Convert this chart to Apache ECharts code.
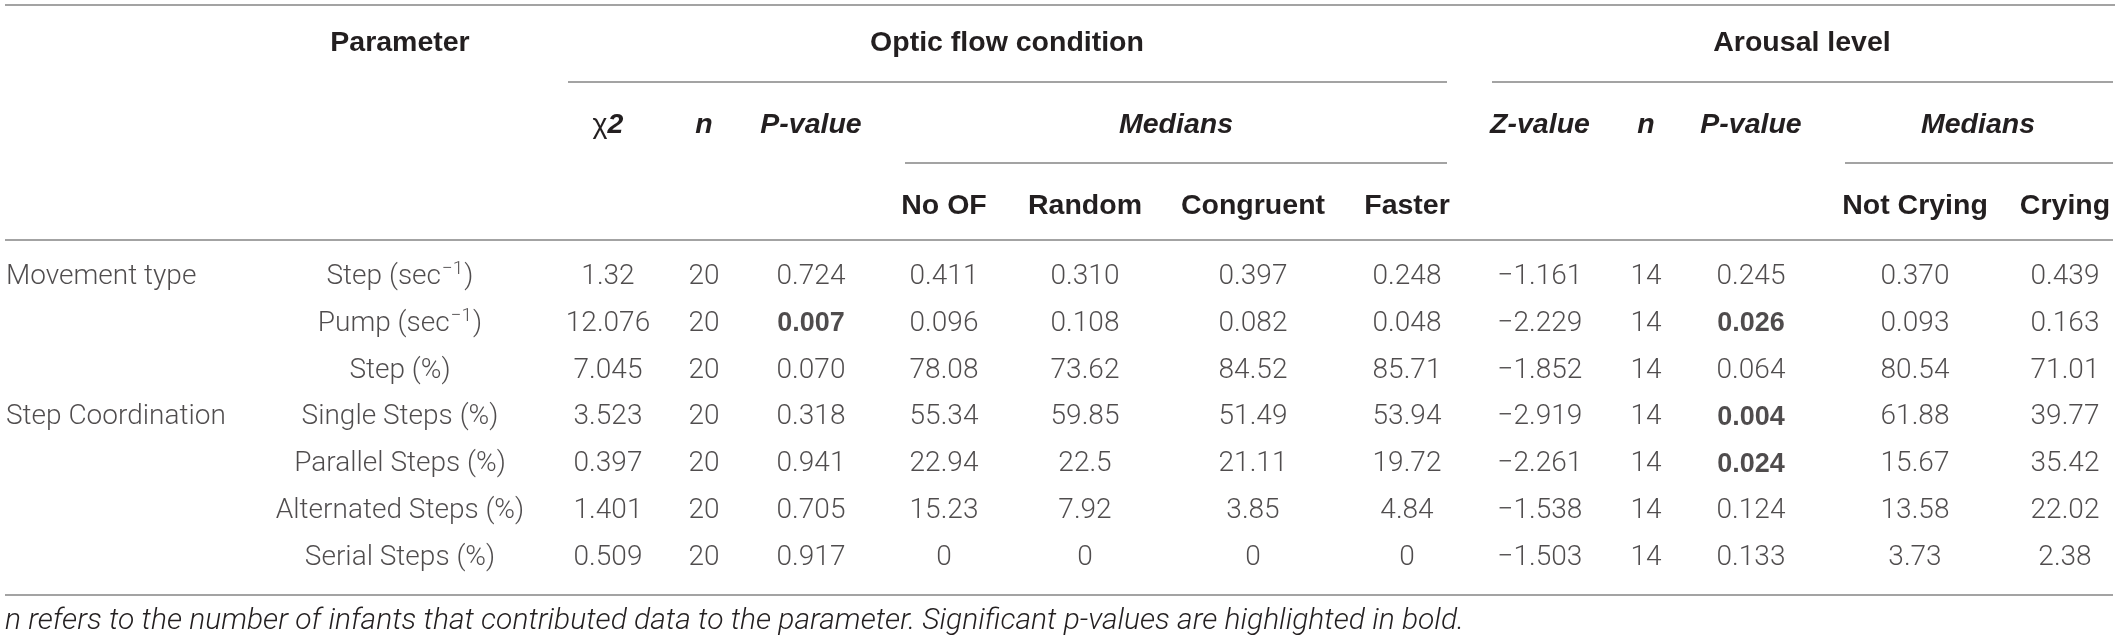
<!DOCTYPE html>
<html>
<head>
<meta charset="utf-8">
<script src="https://cdn.jsdelivr.net/npm/echarts/dist/echarts.min.js"></script>
<style>
html,body{margin:0;padding:0;background:#ffffff;}
#chart{width:2121px;height:644px;}
</style>
</head>
<body>
<div id="chart"></div>
<script>
// ---------- DATA ----------
const groupLabels = ["Movement type", "", "", "Step Coordination", "", "", ""];
const paramLabels = ["Step (sec{sup|\u22121})", "Pump (sec{sup|\u22121})", "Step (%)", "Single Steps (%)",
                     "Parallel Steps (%)", "Alternated Steps (%)", "Serial Steps (%)"];
const chi2Values   = ["1.32", "12.076", "7.045", "3.523", "0.397", "1.401", "0.509"];
const nOptic       = ["20", "20", "20", "20", "20", "20", "20"];
const pOptic       = ["0.724", "0.007", "0.070", "0.318", "0.941", "0.705", "0.917"];
const medNoOF      = ["0.411", "0.096", "78.08", "55.34", "22.94", "15.23", "0"];
const medRandom    = ["0.310", "0.108", "73.62", "59.85", "22.5", "7.92", "0"];
const medCongruent = ["0.397", "0.082", "84.52", "51.49", "21.11", "3.85", "0"];
const medFaster    = ["0.248", "0.048", "85.71", "53.94", "19.72", "4.84", "0"];
const zValues      = ["\u22121.161", "\u22122.229", "\u22121.852", "\u22122.919", "\u22122.261", "\u22121.538", "\u22121.503"];
const nArousal     = ["14", "14", "14", "14", "14", "14", "14"];
const pArousal     = ["0.245", "0.026", "0.064", "0.004", "0.024", "0.124", "0.133"];
const medNotCrying = ["0.370", "0.093", "80.54", "61.88", "15.67", "13.58", "3.73"];
const medCrying    = ["0.439", "0.163", "71.01", "39.77", "35.42", "22.02", "2.38"];

const groupHeaders = ["Parameter", "Optic flow condition", "Arousal level"];
const subHeaders   = ["{c|\u03c7}{t|2}", "n", "P-value", "Medians", "Z-value", "n", "P-value", "Medians"];
const medianHeaders = ["No OF", "Random", "Congruent", "Faster", "Not Crying", "Crying"];
const footnote = "n refers to the number of infants that contributed data to the parameter. Significant p-values are highlighted in bold.";
const significance = 0.05;

// ---------- LAYOUT (positions / styles only) ----------
const W = 2121;
const colX = [400, 608, 704, 811, 944, 1085, 1253, 1407, 1540, 1646, 1751, 1915, 2065];
const groupX = [400, 1007, 1802];
const subX = [608, 704, 811, 1176, 1540, 1646, 1751, 1978];
const medX = [944, 1085, 1253, 1407, 1915, 2065];
const yGroup = 43, ySub = 125, yMed = 206;
const rowTop = 253.6, rowH = 46.8;
const lineColor = '#a3a3a3';
const textColor = '#231f20';
const bodyFont = 'Roboto, "Liberation Sans", sans-serif';
const headFont = '"Liberation Sans", Arial, sans-serif';
const FS = 28;
const HFS = 28.5;

const columns = [paramLabels, chi2Values, nOptic, pOptic, medNoOF, medRandom, medCongruent, medFaster,
                 zValues, nArousal, pArousal, medNotCrying, medCrying];
const pCols = [3, 10];

function cellSeries(values, ci) {
  return {
    type: 'scatter',
    symbolSize: 0,
    silent: true,
    data: values.map((v, i) => {
      const item = { value: [colX[ci], i], text: v };
      if (pCols.indexOf(ci) >= 0 && parseFloat(v) < significance) {
        item.label = { fontWeight: 'bold', fontFamily: headFont, fontSize: FS - 1 };
      }
      return item;
    }),
    label: {
      show: true,
      position: 'inside',
      formatter: p => p.data.text,
      color: textColor,
      fontFamily: bodyFont,
      fontWeight: 300,
      fontSize: FS,
      rich: {
        sup: { fontSize: 19, fontFamily: bodyFont, fontWeight: 300, color: textColor,
               verticalAlign: 'middle', padding: [0, 1, 16, 1] }
      }
    }
  };
}

const series = columns.map((vals, ci) => cellSeries(vals, ci));
series.push({
  type: 'scatter',
  symbolSize: 0,
  silent: true,
  data: groupLabels.map((g, i) => ({ value: [6, i], text: g })).filter(d => d.text),
  label: {
    show: true, position: 'inside', align: 'left',
    formatter: p => p.data.text,
    color: textColor, fontFamily: bodyFont, fontWeight: 300, fontSize: FS
  }
});

// ---------- HEADER GRAPHICS ----------
function hText(txt, x, y, italic) {
  return {
    type: 'text', x: x, y: y, silent: true,
    style: {
      text: txt, align: 'center', verticalAlign: 'middle',
      fill: textColor, fontSize: HFS, fontWeight: 'bold',
      fontStyle: italic ? 'italic' : 'normal', fontFamily: headFont
    }
  };
}
function hLine(x1, x2, y) {
  return { type: 'line', silent: true, shape: { x1: x1, y1: y, x2: x2, y2: y },
           style: { stroke: lineColor, lineWidth: 2 } };
}

const graphics = [];
groupHeaders.forEach((h, i) => graphics.push(hText(h, groupX[i], yGroup, false)));
subHeaders.forEach((h, i) => {
  const g = hText(h, subX[i], ySub, true);
  if (i === 0) {
    g.style.rich = {
      c: { fontSize: HFS, fontFamily: headFont, fontWeight: 'normal', fill: textColor },
      t: { fontSize: HFS, fontFamily: headFont, fontWeight: 'bold', fontStyle: 'italic', fill: textColor }
    };
  }
  graphics.push(g);
});
medianHeaders.forEach((h, i) => graphics.push(hText(h, medX[i], yMed, false)));
graphics.push(hLine(5, 2115, 5));
graphics.push(hLine(568, 1447, 82));
graphics.push(hLine(1492, 2113, 82));
graphics.push(hLine(905, 1447, 163));
graphics.push(hLine(1845, 2113, 163));
graphics.push(hLine(5, 2113, 240));
graphics.push(hLine(5, 2113, 595));
graphics.push({
  type: 'text', x: 5, y: 621, silent: true,
  style: { text: footnote, align: 'left', verticalAlign: 'middle', fill: textColor,
           fontSize: 30, fontStyle: 'italic', fontWeight: 300, fontFamily: bodyFont }
});

const chart = echarts.init(document.getElementById('chart'), null, { renderer: 'canvas' });
chart.setOption({
  animation: false,
  backgroundColor: '#ffffff',
  grid: { left: 0, right: 0, top: rowTop, height: rowH * 7, containLabel: false },
  xAxis: { type: 'value', min: 0, max: W, show: false },
  yAxis: { type: 'category', inverse: true, data: paramLabels.map((_, i) => i), show: false },
  series: series,
  graphic: graphics
});
</script>
</body>
</html>
